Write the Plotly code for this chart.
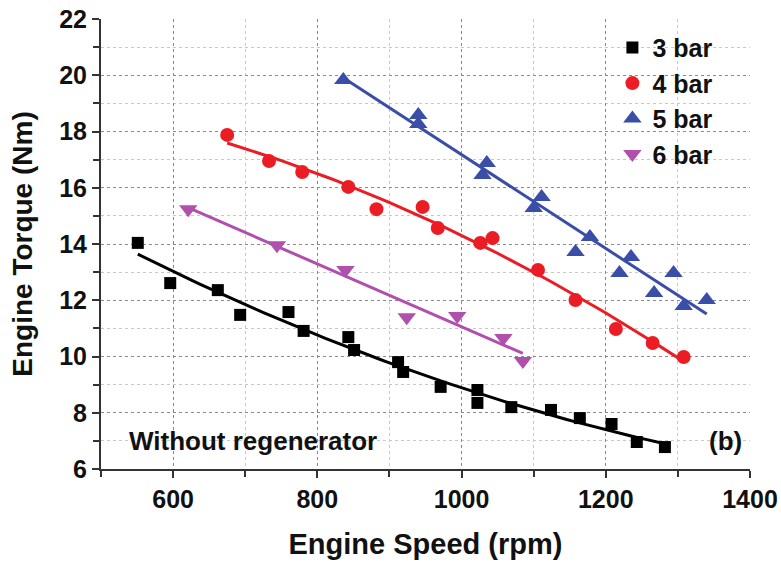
import numpy as np
import plotly.graph_objects as go

# ---- data ----
speed_3bar = [551, 596, 662, 693, 760, 781, 843, 851, 912, 919, 971, 1022, 1022, 1069, 1124, 1164, 1208, 1243, 1282]
torque_3bar = [14.04, 12.61, 12.36, 11.48, 11.58, 10.91, 10.69, 10.23, 9.80, 9.45, 8.92, 8.81, 8.35, 8.20, 8.10, 7.81, 7.60, 6.96, 6.78]

speed_4bar = [675, 733, 779, 843, 882, 946, 967, 1026, 1043, 1106, 1158, 1214, 1265, 1308]
torque_4bar = [17.88, 16.95, 16.56, 16.03, 15.24, 15.32, 14.57, 14.04, 14.21, 13.08, 12.01, 10.98, 10.48, 9.98]

speed_5bar = [836, 940, 940, 1035, 1029, 1111, 1100, 1178, 1158, 1235, 1219, 1294, 1267, 1308, 1340]
torque_5bar = [19.83, 18.59, 18.27, 16.88, 16.45, 15.67, 15.28, 14.25, 13.72, 13.54, 12.97, 12.97, 12.26, 11.80, 12.01]

speed_6bar = [621, 744, 839, 924, 994, 1058, 1085]
torque_6bar = [15.24, 13.96, 13.08, 11.40, 11.44, 10.66, 9.84]

series_names = ["3 bar", "4 bar", "5 bar", "6 bar"]
series_colors = ["#000000", "#ec1c24", "#3a4ea8", "#b04fae"]
series_symbols = ["square", "circle", "triangle-up", "triangle-down"]
series_sizes = [12, 14, 16, 16]
fit_degree = [2, 2, 1, 1]

x_title = "Engine Speed (rpm)"
y_title = "Engine Torque (Nm)"
note_left = "Without regenerator"
note_right = "(b)"

FONT = "Liberation Sans, Arial, sans-serif"
TXT = "#111"

fig = go.Figure()
all_x = [speed_3bar, speed_4bar, speed_5bar, speed_6bar]
all_y = [torque_3bar, torque_4bar, torque_5bar, torque_6bar]

for xs, ys, name, col, sym, sz, deg in zip(all_x, all_y, series_names, series_colors,
                                           series_symbols, series_sizes, fit_degree):
    xa = np.array(xs, dtype=float)
    ya = np.array(ys, dtype=float)
    coef = np.polyfit(xa, ya, deg)
    xf = np.linspace(xa.min(), xa.max(), 60)
    yf = np.polyval(coef, xf)
    fig.add_trace(go.Scatter(x=xf, y=yf, mode="lines", line=dict(color=col, width=3),
                             showlegend=False, hoverinfo="skip"))
    fig.add_trace(go.Scatter(x=xs, y=ys, mode="markers", name=name,
                             marker=dict(symbol=sym, size=sz, color=col)))

fig.update_layout(
    width=781, height=568,
    margin=dict(l=101, r=31, t=19, b=99),
    plot_bgcolor="white", paper_bgcolor="white",
    font=dict(family=FONT, size=24, color=TXT),
    legend=dict(x=0.788, y=0.987, xanchor="left", yanchor="top",
                bgcolor="rgba(0,0,0,0)", font=dict(size=25, family=FONT, weight="bold", color=TXT),
                tracegroupgap=0),
    showlegend=True,
)

fig.update_xaxes(
    range=[500, 1400], tick0=600, dtick=200, automargin=False,
    showline=True, linecolor="#333", linewidth=2,
    ticks="outside", ticklen=7, tickwidth=2, tickcolor="#333",
    showgrid=True, gridcolor="#8a8a8a", griddash="dot", gridwidth=1.3,
    minor=dict(dtick=100, tick0=500, ticks="outside", ticklen=6, tickwidth=1.5, tickcolor="#333",
               showgrid=True, gridcolor="#c8c8c8", griddash="dot", gridwidth=1),
    tickfont=dict(size=25, family=FONT, weight="bold", color=TXT),
    title=dict(text=x_title, font=dict(size=29, family=FONT, weight="bold", color=TXT), standoff=22),
    zeroline=False,
)
fig.update_yaxes(
    range=[6, 22], tick0=6, dtick=2, automargin=False,
    showline=True, linecolor="#333", linewidth=2,
    ticks="outside", ticklen=7, tickwidth=2, tickcolor="#333",
    showgrid=True, gridcolor="#8a8a8a", griddash="dot", gridwidth=1.3,
    minor=dict(dtick=1, tick0=6, ticks="outside", ticklen=6, tickwidth=1.5, tickcolor="#333",
               showgrid=True, gridcolor="#c8c8c8", griddash="dot", gridwidth=1),
    tickfont=dict(size=25, family=FONT, weight="bold", color=TXT),
    title=dict(text=y_title, font=dict(size=28, family=FONT, weight="bold", color=TXT), standoff=18),
    zeroline=False,
)

fig.add_annotation(x=0.04, y=0.025, xref="x domain", yref="y domain", xanchor="left", yanchor="bottom",
                   text=note_left, showarrow=False,
                   font=dict(size=26, family=FONT, weight="bold", color=TXT))
fig.add_annotation(x=0.99, y=0.025, xref="x domain", yref="y domain", xanchor="right", yanchor="bottom",
                   text=note_right, showarrow=False,
                   font=dict(size=26, family=FONT, weight="bold", color=TXT))

fig.write_html("out.html")
